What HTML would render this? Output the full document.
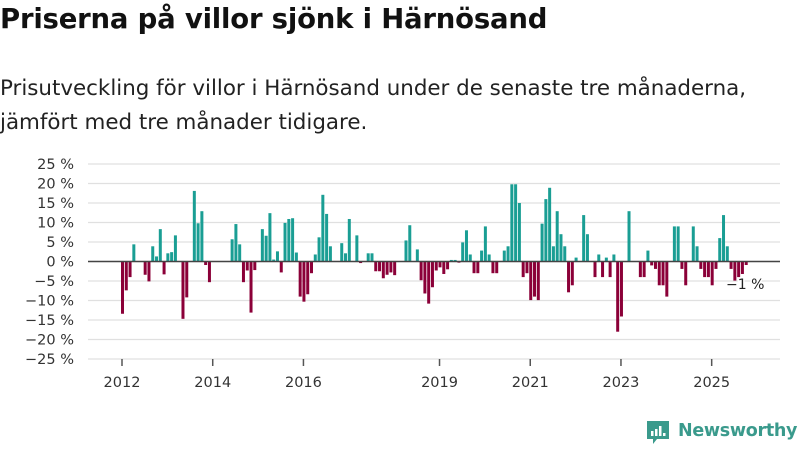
<!DOCTYPE html>
<html><head><meta charset="utf-8"><style>
body{margin:0;width:800px;height:450px;background:#fff;overflow:hidden;font-family:"DejaVu Sans","Liberation Sans",sans-serif;}
#title{position:absolute;left:0;top:3px;font-size:27.5px;font-weight:bold;color:#111;margin:0;letter-spacing:-0.2px;}
#sub{position:absolute;left:0;top:72px;font-size:21.4px;line-height:34px;color:#222;margin:0;}
svg{position:absolute;left:0;top:0;}
#logo{position:absolute;left:645px;top:419px;}
#brand{position:absolute;left:678px;top:421px;font-size:17.5px;color:#3a9a8c;font-weight:bold;letter-spacing:-0.3px;}
</style></head><body>
<h1 id="title">Priserna på villor sjönk i Härnösand</h1>
<p id="sub">Prisutveckling för villor i Härnösand under de senaste tre månaderna,<br>jämfört med tre månader tidigare.</p>
<svg id="chart" width="800" height="450"></svg>
<svg id="logo" width="26" height="26" viewBox="0 0 26 26"><path d="M2 2h22v18H12l-4 5v-5H2z" fill="#3a9a8c"/><rect x="6" y="12" width="2.5" height="5" fill="#fff"/><rect x="10" y="10" width="2.5" height="7" fill="#fff"/><rect x="14" y="7" width="2.5" height="10" fill="#fff"/><rect x="18" y="14" width="2.5" height="3" fill="#fff"/></svg>
<div id="brand">Newsworthy</div>
<script>
const yTicks=[25,20,15,10,5,0,-5,-10,-15,-20,-25];
const yearLabels=["2012","2014","2016","2019","2021","2023","2025"];
const yearMonthIdx=[0,24,48,84,108,132,156];
const values=[-13.4,-7.4,-4,4.4,0,0,-3.4,-5.1,3.9,1.3,8.3,-3.3,2.1,2.4,6.7,0,-14.7,-9.2,0,18.1,9.8,12.9,-0.9,-5.3,0,0,0,0,0,5.7,9.6,4.4,-5.3,-2.3,-13.1,-2.2,0,8.3,6.6,12.4,0.5,2.6,-2.8,9.9,10.9,11.1,2.3,-9,-10.3,-8.4,-3,1.8,6.2,
17.1,12.2,3.9,0,0,4.7,2.1,10.9,0,6.7,-0.4,0,2.1,2.1,-2.5,-2.5,-4.3,-3.4,-2.8,-3.5,0,0,5.4,9.3,0,3.1,-4.8,-8.2,-10.8,-6.6,-2.3,-1.5,-3.2,-2,0.4,0.4,-0.3,4.9,8,1.8,-3,-3,2.8,9,1.8,-3,-3,0,2.8,3.9,19.8,19.8,15,-4,-3,-9.9,-9,-9.9,9.7,
16,18.9,3.9,12.9,7,3.9,-7.9,-6.1,1,0,11.9,7,0,-4,1.8,-4,1,-4,1.8,-18,-14.1,0,12.9,0,0,-4,-4,2.8,-1,-1.9,-6.1,-6.1,-9,0,9,9,-1.9,-6.1,0,9,3.9,-1.9,-4,-4,-6.1,-1.9,6,11.9,3.9,-1.9,-4.9,-4,-3.2,-0.9];
const NS="http://www.w3.org/2000/svg";
const svg=document.getElementById('chart');
const y0=261.5,pxPer=3.9,x0=121,mw=3.78;
const Y=v=>y0-v*pxPer;
const X=i=>x0+i*mw;
function mk(t,a){const e=document.createElementNS(NS,t);for(const k in a)e.setAttribute(k,a[k]);svg.appendChild(e);return e;}
yTicks.forEach(t=>{
  const g=mk('line',{x1:88,x2:780,y1:Y(t),y2:Y(t),stroke:'#e0e0e0','stroke-width':1.3});
  
  
  const l=mk('text',{x:74,y:Y(t)+5,'text-anchor':'end','font-size':14.5,fill:'#333'});
  l.textContent=(t<0?'−'+(-t):t)+' %';
  
  
});
values.forEach((v,i)=>{
  if(v===0)return;
  const r=mk('rect',{x:X(i),width:3,y:Math.min(Y(v),y0),height:Math.abs(Y(v)-y0),fill:v>0?'#1a9e94':'#8b0038'});
  
  
});
const z=mk('line',{x1:88,x2:780,y1:y0,y2:y0,stroke:'#444','stroke-width':1.5});


yearLabels.forEach((lab,k)=>{
  const x=X(yearMonthIdx[k])+1;
  const tk=mk('line',{x1:x,x2:x,y1:359,y2:366,stroke:'#555','stroke-width':1.5});
  
  
  const t=mk('text',{x:x,y:387,'text-anchor':'middle','font-size':14.5,fill:'#333'});
  t.textContent=lab;
  
  
});
const a=mk('text',{x:726,y:289,'font-size':14,fill:'#222',stroke:'#fff','stroke-width':3,'paint-order':'stroke'});
a.textContent='−1 %';


</script>
</body></html>
